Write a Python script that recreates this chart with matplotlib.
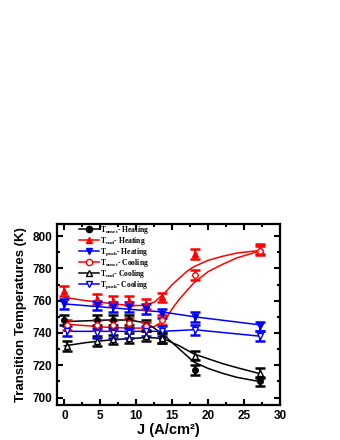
import matplotlib
matplotlib.use("Agg")
import matplotlib.pyplot as plt
from matplotlib.ticker import MultipleLocator

# --- datos ---
J_heat = [0, 4.5, 6.8, 9.0, 11.3, 13.6, 18.1, 27.2]
J_cool = [0.4, 4.5, 6.8, 9.0, 11.3, 13.6, 18.1, 27.2]

T_onset_heat = [748, 748, 748, 748, 745, 737, 717, 710]
T_end_heat = [766, 761, 760, 760, 758, 762, 789, 792]
T_peak_heat = [758, 757, 756, 756, 755, 752, 750, 744]
T_onset_cool = [745, 745, 745, 746, 744, 748, 776, 791]
T_end_cool = [732, 735, 736, 737, 738, 737, 726, 715]
T_peak_cool = [741, 740, 740, 740, 741, 741, 742, 738]
err = [3, 3, 3, 3, 3, 3, 3, 3]

# curvas de ajuste
Jfit = [0, 3, 6, 9, 11, 12.5, 14, 15, 16, 17, 18, 20, 22, 24, 27]
fit_end_heat = [762, 760, 758.5, 757, 757, 759, 765, 770, 774, 778, 781, 785, 787.5, 789.5, 791]
fit_onset_cool = [745.5, 744.5, 743.5, 743, 743, 744, 748, 755, 761, 766, 771, 778, 782.5, 786.5, 790.5]
fit_onset_heat = [747, 747.5, 748, 748, 746.5, 743, 738, 734, 730, 726, 722, 718, 715, 712.5, 710]
fit_end_cool = [732, 734, 735.5, 736.5, 737, 737, 736, 734, 732, 729.5, 727, 724, 721, 718.5, 715]
Jlin = [0, 13.6, 18.1, 27.2]
fit_peak_heat = [758, 753, 750, 745]
fit_peak_cool = [741, 741, 742, 738]

labels = [r"T$_{\mathrm{onset}}$- Heating", r"T$_{\mathrm{end}}$- Heating",
          r"T$_{\mathrm{peak}}$- Heating", r"T$_{\mathrm{onset}}$- Cooling",
          r"T$_{\mathrm{end}}$- Cooling", r"T$_{\mathrm{peak}}$- Cooling"]

plt.rcParams['font.family'] = 'Liberation Sans'
plt.rcParams['font.weight'] = 'bold'
plt.rcParams['mathtext.fontset'] = 'custom'
plt.rcParams['mathtext.rm'] = 'Liberation Serif:bold'
plt.rcParams['mathtext.it'] = 'Liberation Serif:bold'

fig = plt.figure(figsize=(3.4, 4.4), dpi=100)
ax = fig.add_axes([0.168, 0.08, 0.656, 0.411])

# lineas de ajuste
ax.plot(Jfit, fit_end_heat, color='red', lw=1.1)
ax.plot(Jfit, fit_onset_cool, color='red', lw=1.1)
ax.plot(Jfit, fit_onset_heat, color='black', lw=1.1)
ax.plot(Jfit, fit_end_cool, color='black', lw=1.1)
ax.plot(Jlin, fit_peak_heat, color='blue', lw=1.1)
ax.plot(Jlin, fit_peak_cool, color='blue', lw=1.1)

series = [
    (J_heat, T_onset_heat, 'black', 'o', 'black'),
    (J_heat, T_end_heat, 'red', '^', 'red'),
    (J_heat, T_peak_heat, 'blue', 'v', 'blue'),
    (J_cool, T_onset_cool, 'red', 'o', 'white'),
    (J_cool, T_end_cool, 'black', '^', 'white'),
    (J_cool, T_peak_cool, 'blue', 'v', 'white'),
]
for (xs, ys, c, m, fc) in series:
    ax.errorbar(xs, ys, yerr=err, fmt=m, color=c, mfc=fc, mec=c, ms=4,
                ecolor=c, elinewidth=1.5, capsize=3.3, capthick=1.8, zorder=3)

# entradas de leyenda (linea + marcador)
handles = []
for (xs, ys, c, m, fc), lab in zip(series, labels):
    h, = ax.plot([], [], color=c, marker=m, mfc=fc, mec=c, ms=4.5, lw=1.1, label=lab)
    handles.append(h)
ax.legend(handles=handles, loc='upper left', bbox_to_anchor=(0.1, 1.0),
          frameon=False, prop={'family': 'Liberation Serif', 'weight': 'bold', 'size': 5.5},
          handlelength=2.6, handletextpad=0.1,
          labelspacing=-0.12, borderpad=0, borderaxespad=0)

ax.set_xlim(-1, 30)
ax.set_ylim(695.5, 807.5)
ax.xaxis.set_major_locator(MultipleLocator(5))
ax.xaxis.set_minor_locator(MultipleLocator(2.5))
ax.yaxis.set_major_locator(MultipleLocator(20))
ax.yaxis.set_minor_locator(MultipleLocator(10))
ax.tick_params(which='both', direction='in', top=True, right=True, width=1.5,
               labelsize=8.5)
ax.tick_params(which='major', length=4)
ax.tick_params(which='minor', length=2.5)
for s in ax.spines.values():
    s.set_linewidth(1.6)
for t in ax.get_xticklabels() + ax.get_yticklabels():
    t.set_fontweight('bold')

ax.set_xlabel("J (A/cm²)", fontsize=10.5, fontweight='bold', labelpad=1)
ax.set_ylabel("Transition Temperatures (K)", fontsize=9.5, fontweight='bold', labelpad=4)

fig.savefig("out.png", dpi=100)
